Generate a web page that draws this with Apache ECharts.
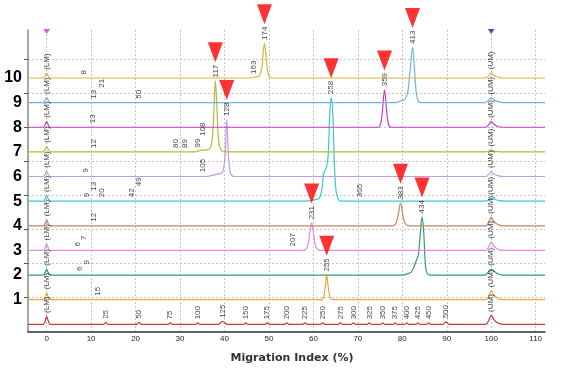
<!DOCTYPE html>
<html><head><meta charset="utf-8">
<script src="https://cdn.jsdelivr.net/npm/echarts@6/dist/echarts.min.js"></script>
<style>html,body{margin:0;padding:0;background:#fff}#c{width:564px;height:373px}</style>
</head><body><div id="c"></div>
<script>
// ---- axis ticks / labels ----
const xTicks = [0,10,20,30,40,50,60,70,80,90,100,110];
const yGridTicks = [27.4,61.9,96.4,130.9,165.4,199.9,234.4,268.9];
const laneLabels = ['1','2','3','4','5','6','7','8','9','10'];

// ---- traces: [migration index, signal above lane baseline] ----
const ladderLine = [[-4.2,0],[-0.8,0],[-0.35,3.5],[0,8],[0.35,3.5],[0.8,0],
 [12.8,0],[13.3,2],[13.8,0],[20.3,0],[20.8,2],[21.3,0],[27.3,0],[27.8,1.5],[28.3,0],
 [33.5,0],[34.0,1.5],[34.5,0],[38.6,0],[39.6,3],[40.6,0],[44.3,0],[44.8,1.5],[45.3,0],
 [49.1,0],[49.6,1.5],[50.1,0],[53.5,0],[54.0,1.5],[54.5,0],[57.6,0],[58.1,1.5],[58.6,0],
 [61.6,0],[62.1,1.5],[62.6,0],[65.6,0],[66.1,1.5],[66.6,0],[68.5,0],[69.0,1.5],[69.5,0],
 [72.1,0],[72.6,1.5],[73.1,0],[75.1,0],[75.6,1.5],[76.1,0],[77.9,0],[78.4,1.5],[78.9,0],
 [80.5,0],[81.0,1.5],[81.5,0],[83.0,0],[83.5,1.5],[84.0,0],[85.4,0],[85.9,1.5],[86.4,0],
 [89.1,0],[89.8,2.5],[90.5,0],[98.8,0],[99.5,4.5],[100,9],[100.6,5],[101.4,1.5],[102.5,0],[112.1,0]];
const ladderLabels = [[0,8,'(LM)'],[13.3,2,'25'],[20.8,2,'50'],[27.8,1.5,'75'],[34.0,1.5,'100'],
 [39.6,3,'125'],[44.8,1.5,'150'],[49.6,1.5,'175'],[54.0,1.5,'200'],[58.1,1.5,'225'],[62.1,1.5,'250'],
 [66.1,1.5,'275'],[69.0,1.5,'300'],[72.6,1.5,'325'],[75.6,1.5,'350'],[78.4,1.5,'375'],[81.0,1.5,'400'],
 [83.5,1.5,'425'],[85.9,1.5,'450'],[89.8,2.5,'500'],[100,9,'(UM)']];

const lane1Line = [[-4.2,0],[-0.8,0],[-0.3,3.5],[0,7],[0.3,3.5],[0.8,0],
 [61.8,0],[62.3,3],[62.7,14],[63.0,25],[63.3,14],[63.7,3],[64.2,0],
 [98.8,0],[99.5,4.5],[100,9],[100.6,5],[101.4,1.5],[102.5,0],[112.1,0]];
const lane1Labels = [[0,7,'(LM)'],[11.5,0.5,'15'],[63.0,25,'255',1],[100,9,'(UM)']];

const lane2Line = [[-4.2,0],[-0.8,0],[-0.3,3],[0,6],[0.3,3],[0.8,0],
 [79.8,0],[81.0,1],[82.0,3],[82.6,8],[83.1,14],[83.6,20],[84.1,45],[84.45,59],[84.8,45],[85.2,10],[85.6,1.5],[86.2,0],
 [98.6,0],[99.3,3],[100,6],[100.7,3.5],[101.6,1],[102.6,0],[112.1,0]];
const lane2Labels = [[0,6,'(LM)'],[7.5,0.5,'6'],[9.1,0.5,'9'],[84.45,59,'434',1],[100,6,'(UM)']];

const lane3Line = [[-4.2,0],[-0.8,0],[-0.3,3.3],[0,6.5],[0.3,3.3],[0.8,0],
 [57.6,0],[58.3,1],[58.8,6],[59.2,18],[59.6,28],[60.0,18],[60.4,6],[60.9,1],[61.5,0],
 [98.8,0],[99.5,4.5],[100,8.5],[100.6,4.5],[101.4,1.5],[102.5,0],[112.1,0]];
const lane3Labels = [[0,6.5,'(LM)'],[7.1,0.5,'6'],[8.4,0.5,'7'],[55.4,0.5,'207'],[59.6,28,'231',1],[100,8.5,'(UM)']];

const lane4Line = [[-4.2,0],[-0.8,0],[-0.3,3],[0,6],[0.3,3],[0.8,0],
 [77.8,0],[78.5,2],[79.0,9],[79.6,23],[80.2,9],[80.7,2],[81.4,0],
 [98.8,0],[99.5,4.5],[100,8.7],[100.6,4.5],[101.4,1.5],[102.5,0],[112.1,0]];
const lane4Labels = [[0,6,'(LM)'],[10.6,0.5,'12'],[79.6,23,'383',1],[100,8.7,'(UM)']];

const lane5Line = [[-4.2,0],[-0.8,0],[-0.3,2.8],[0,5.7],[0.3,2.8],[0.8,0],
 [58.0,0],[60.0,1],[61.3,3],[61.9,12],[62.3,28],[62.9,34],[63.3,45],[63.7,90],[64.0,105],[64.35,90],[64.7,40],[65.1,10],[65.6,2],[66.2,0],
 [98.6,0],[99.4,1.5],[100,3],[100.7,2],[101.8,0.5],[103,0],[112.1,0]];
const lane5Labels = [[0,5.7,'(LM)'],[9.1,0.5,'9'],[10.7,0.5,'13'],[12.4,0.5,'20'],[19.1,0.5,'42'],[20.8,0.5,'49'],
 [64.0,105,'258',1],[70.5,0.5,'305'],[100,3,'(UM)']];

const lane6Line = [[-4.2,0],[-0.8,0],[-0.3,2.7],[0,5.3],[0.3,2.7],[0.8,0],
 [35.8,0],[37.5,1.5],[39.0,3],[39.6,4.5],[40.1,20],[40.5,58],[40.9,20],[41.3,4],[41.8,0.5],[42.3,0],
 [98.8,0],[99.5,2.5],[100,5],[100.6,2.5],[101.4,1],[102.5,0],[112.1,0]];
const lane6Labels = [[0,5.3,'(LM)'],[8.85,0.5,'9'],[35.2,0.8,'105'],[40.5,58,'128',1],[100,5,'(UM)']];

const lane7Line = [[-4.2,0],[-0.8,0],[-0.3,2.8],[0,5.6],[0.3,2.8],[0.8,0],
 [33.5,0],[34.5,1.5],[36.0,2],[36.8,4],[37.3,15],[37.7,50],[37.95,72],[38.25,50],[38.6,15],[39.0,4],[39.5,0.5],[40.0,0],
 [98.8,0],[99.5,1],[100,2],[100.6,1],[101.4,0.3],[102.5,0],[112.1,0]];
const lane7Labels = [[0,5.6,'(LM)'],[10.6,0.5,'12'],[29.0,0.5,'80'],[31.1,0.5,'89'],[33.9,1,'99'],[35.2,1.5,'108'],
 [37.95,72,'117',1],[100,2,'(UM)']];

const lane8Line = [[-4.2,0],[-0.8,0],[-0.3,3],[0,6],[0.3,3],[0.8,0],
 [74.6,0],[75.1,3],[75.5,15],[76.0,38],[76.5,15],[76.9,3],[77.5,0],
 [98.8,0],[99.5,3],[100,6],[100.6,3],[101.4,1],[102.5,0],[112.1,0]];
const lane8Labels = [[0,6,'(LM)'],[10.4,0.5,'13'],[76.0,38,'359',1],[100,6,'(UM)']];

const lane9Line = [[-4.2,0],[-0.8,0],[-0.3,2.7],[0,5.3],[0.3,2.7],[0.8,0],
 [78.5,0],[79.5,1.5],[80.5,3],[81.2,10],[81.7,30],[82.3,56],[82.8,30],[83.2,8],[83.7,1],[84.3,0],
 [98.6,0],[99.4,2.5],[100,4.7],[100.7,2.5],[101.6,1],[102.6,0],[112.1,0]];
const lane9Labels = [[0,5.3,'(LM)'],[10.5,0.5,'13'],[12.5,0.5,'21'],[20.8,0.5,'50'],[82.3,56,'413',1],[100,4.7,'(UM)']];

const lane10Line = [[-4.2,0],[-0.8,0],[-0.3,2.4],[0,4.7],[0.3,2.4],[0.8,0],
 [45.5,0],[47.0,1],[47.9,2.5],[48.4,10],[48.7,25],[49.0,35],[49.3,25],[49.6,10],[50.0,2],[50.5,0],
 [98.8,0],[99.5,2.7],[100,5.3],[100.6,2.7],[101.4,1],[102.5,0],[112.1,0]];
const lane10Labels = [[0,4.7,'(LM)'],[8.4,0,'8'],[46.6,0.5,'163'],[49.0,35,'174',1],[100,5.3,'(UM)']];

// ---- assembly ----
const lanes = [
 {line: ladderLine, labels: ladderLabels, color: '#cc3a3a'},
 {line: lane1Line, labels: lane1Labels, color: '#f0a540'},
 {line: lane2Line, labels: lane2Labels, color: '#2f9e72'},
 {line: lane3Line, labels: lane3Labels, color: '#e48ae4'},
 {line: lane4Line, labels: lane4Labels, color: '#c0866a'},
 {line: lane5Line, labels: lane5Labels, color: '#3cc8c8'},
 {line: lane6Line, labels: lane6Labels, color: '#c49ae0'},
 {line: lane7Line, labels: lane7Labels, color: '#b0bd3a'},
 {line: lane8Line, labels: lane8Labels, color: '#c83cc8'},
 {line: lane9Line, labels: lane9Labels, color: '#72b2e2'},
 {line: lane10Line, labels: lane10Labels, color: '#d8b53a'}
];
const LANE_STEP = 25;
const Y_MIN = -7.8, Y_MAX = 298.7, X_MIN = -4.2, X_MAX = 112.1;
const PLOT_H = 302;
const UNIT_PX = PLOT_H / (Y_MAX - Y_MIN);
const LABEL_FONT = 'Liberation Sans';

const mctx = document.createElement('canvas').getContext('2d');
mctx.font = '8px "' + LABEL_FONT + '"';
const tw = s => mctx.measureText(s).width;

const series = [];
const labelPts = [], markPts = [];
lanes.forEach((ln, i) => {
  const base = i * LANE_STEP;
  series.push({
    type: 'line', data: ln.line.map(p => [p[0], p[1] + base]),
    symbol: 'none', smooth: 0.35, silent: true, z: 2,
    lineStyle: {color: ln.color, width: 1.2}
  });
  let prev = null;
  ln.labels.slice().sort((a, b) => a[0] - b[0]).forEach(l => {
    let lift = 0;
    if (prev && l[0] - prev.x < 2.05 && prev.lift === 0) lift = prev.w + 2;
    const w = tw(l[2]);
    labelPts.push({value: [l[0], base + l[1] + lift / UNIT_PX], name: l[2]});
    if (l[3]) markPts.push({value: [l[0], base + l[1]], symbolOffset: [0, -(3 + w + 3 + 10)]});
    prev = {x: l[0], lift: lift, w: w};
  });
});

series.push({
  type: 'scatter', data: labelPts, symbolSize: 1, clip: false, silent: true, z: 5,
  itemStyle: {color: 'rgba(0,0,0,0)'},
  label: {show: true, formatter: '{b}', position: 'top', distance: 3, rotate: 90,
    align: 'left', verticalAlign: 'middle', fontSize: 8, color: '#111', fontFamily: LABEL_FONT}
});
series.push({
  type: 'scatter', data: markPts, symbol: 'triangle', symbolRotate: 180, symbolSize: [15, 20],
  clip: false, silent: true, z: 6, itemStyle: {color: '#ff0000'}
});
series.push({
  type: 'scatter', clip: false, silent: true, z: 6, symbol: 'triangle', symbolRotate: 180,
  symbolSize: [7, 5], symbolOffset: [0, 1.5],
  data: [{value: [0, Y_MAX], itemStyle: {color: '#d23cd2'}}, {value: [100, Y_MAX], itemStyle: {color: '#1f2f9a'}}]
});

const chart = echarts.init(document.getElementById('c'));
chart.setOption({
  animation: false,
  backgroundColor: '#fff',
  grid: {left: 28, right: 19, top: 30, bottom: 41, containLabel: false},
  xAxis: {
    type: 'value', min: X_MIN, max: X_MAX,
    axisLine: {show: true, onZero: false, lineStyle: {color: '#333', width: 1.5}},
    axisTick: {show: false, customValues: xTicks},
    axisLabel: {customValues: xTicks, fontSize: 8, color: '#222', margin: 3, fontFamily: LABEL_FONT},
    splitLine: {show: true, lineStyle: {color: '#c4c4c4', type: [2, 2], width: 1}},
    name: 'Migration Index (%)', nameLocation: 'middle', nameGap: 21,
    nameTextStyle: {fontSize: 11, fontWeight: 'bold', color: '#333', fontFamily: 'DejaVu Sans', padding: [0, 0, 0, 11]}
  },
  yAxis: {
    type: 'value', min: Y_MIN, max: Y_MAX,
    axisLine: {show: true, onZero: false, lineStyle: {color: '#888', width: 1.5}},
    axisTick: {show: true, customValues: yGridTicks, length: 4, lineStyle: {color: '#555'}},
    axisLabel: {customValues: laneLabels.map((s, i) => (i + 1) * LANE_STEP),
      formatter: v => laneLabels[Math.round(v / LANE_STEP) - 1],
      fontSize: 16, fontWeight: 'bold', color: '#000', margin: 6, fontFamily: LABEL_FONT},
    splitLine: {show: true, lineStyle: {color: '#c4c4c4', type: [2, 2], width: 1}}
  },
  series: series
});
</script></body></html>
